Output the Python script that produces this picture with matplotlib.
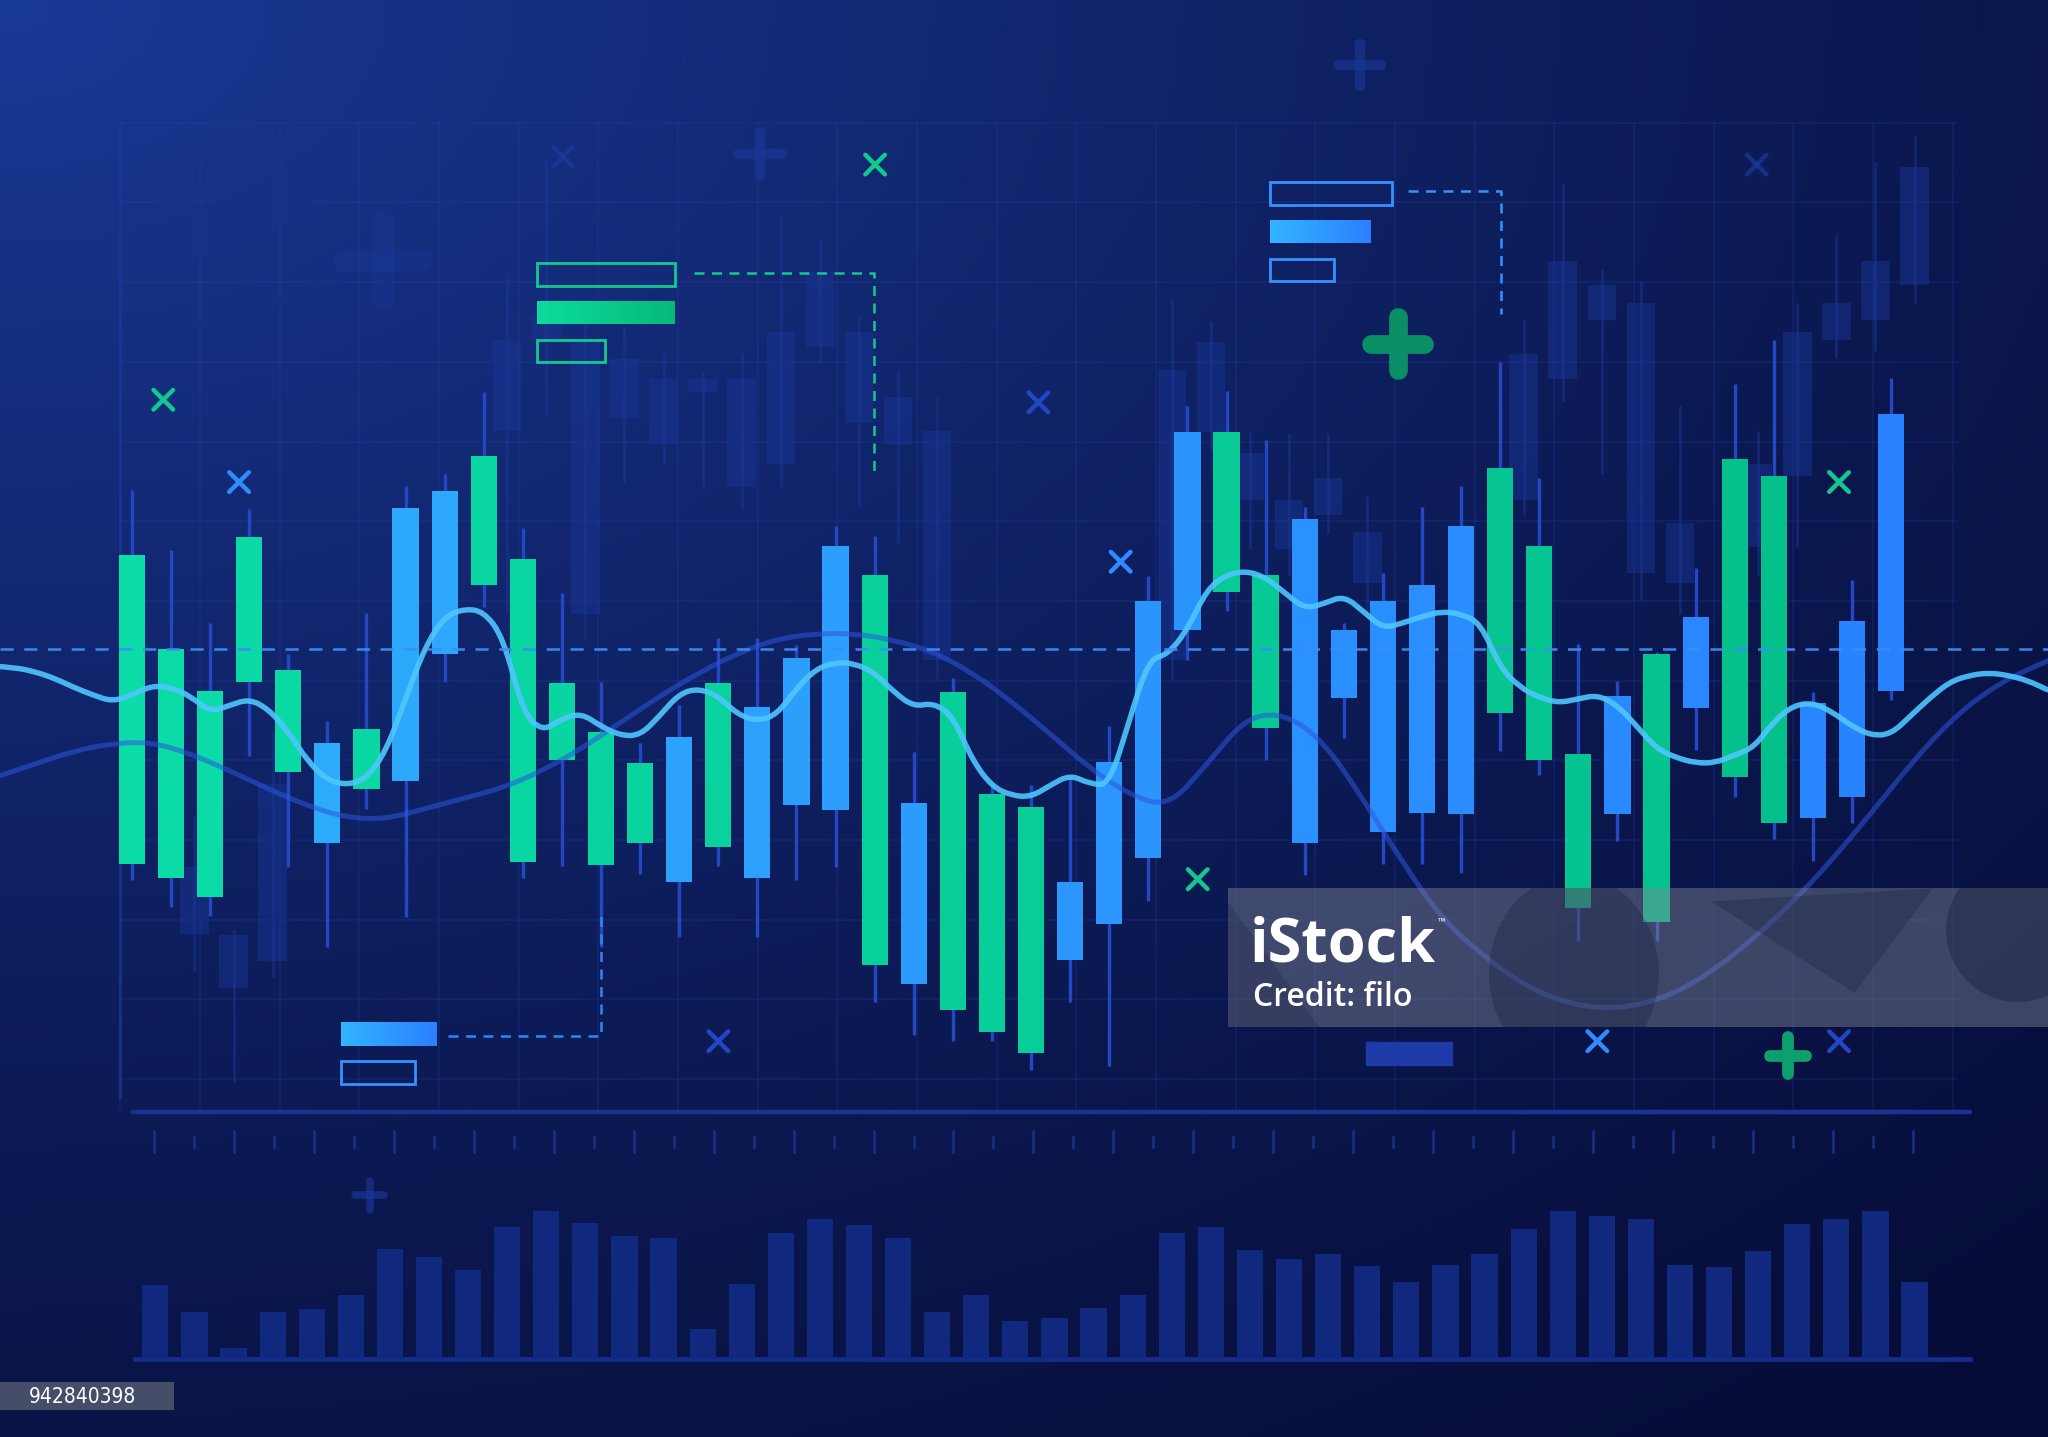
import numpy as np
import matplotlib
matplotlib.use("Agg")
import matplotlib.pyplot as plt
from matplotlib.path import Path
from matplotlib.patches import PathPatch, Rectangle, Ellipse, Polygon
from matplotlib.colors import to_rgb

# ---------------- data (price units) ----------------
candle_kind = list("GGGGGBGBBGGGGGBGBBBGBGGGBBBBGGBBBBBGGGBGBGGBBB")
body_top = [67.5, 60.3, 57.1, 68.9, 58.7, 53.1, 54.2, 71.1, 72.4, 75.1, 67.2, 57.7, 54.0, 51.6, 53.6, 57.7,
            55.9, 59.6, 68.2, 66.0, 48.5, 57.0, 49.2, 48.2, 42.5, 51.7, 64.0, 76.9, 76.9, 66.0, 70.3, 61.8,
            64.0, 65.2, 69.7, 74.2, 68.2, 52.3, 56.7, 59.9, 62.8, 74.9, 73.6, 56.2, 62.5, 78.3]
body_bot = [43.9, 42.8, 41.3, 57.8, 50.9, 45.5, 49.6, 50.2, 59.9, 65.2, 44.0, 51.8, 43.8, 45.5, 42.5, 45.2,
            42.8, 48.4, 48.0, 36.1, 34.7, 32.7, 31.0, 29.4, 36.5, 39.3, 44.3, 61.8, 64.7, 54.3, 45.5, 56.6,
            46.3, 47.8, 47.7, 55.4, 51.8, 40.5, 47.7, 39.4, 55.8, 50.5, 47.0, 47.4, 49.0, 57.1]
wick_hi = [72.5, 67.9, 62.3, 71.0, 59.9, 54.8, 63.1, 72.8, 73.7, 80.0, 69.6, 64.6, 57.8, 53.1, 56.0, 61.2,
           61.2, 60.6, 69.7, 69.0, 52.4, 58.1, 50.0, 49.9, 50.6, 54.4, 65.9, 78.9, 80.1, 76.3, 71.2, 62.3,
           66.1, 71.2, 72.8, 82.3, 73.4, 60.7, 57.9, 60.1, 66.5, 80.6, 84.0, 57.0, 65.6, 81.1]
wick_lo = [42.6, 40.6, 39.9, 52.1, 43.6, 37.5, 48.1, 39.8, 57.8, 63.5, 42.8, 43.7, 37.5, 43.1, 38.3, 43.7,
           38.3, 42.6, 43.6, 33.3, 30.8, 30.3, 30.3, 28.1, 33.3, 28.4, 41.0, 59.5, 63.2, 51.8, 43.0, 53.5,
           43.9, 43.9, 43.2, 52.5, 50.7, 38.0, 45.6, 38.0, 52.6, 49.0, 45.8, 44.1, 47.0, 56.4]
volume = [5.6, 3.6, 0.8, 3.6, 3.8, 4.9, 8.4, 7.8, 6.8, 10.1, 11.3, 10.4, 9.4, 9.2, 2.3, 5.7, 9.6, 10.7,
          10.2, 9.2, 3.6, 4.9, 2.9, 3.1, 3.9, 4.9, 9.6, 10.1, 8.3, 7.6, 8.0, 7.1, 5.9, 7.2, 8.0, 9.9, 11.3,
          10.9, 10.7, 7.2, 7.0, 8.2, 10.3, 10.7, 11.3, 5.9]
nan = np.nan
ghost_top = [nan, 43.6, 38.4, 50.0, nan, nan, nan, nan, nan, 84.0, 86.0, 84.0, 82.5, 81.0, 81.0, 81.0,
             84.6, 89.2, 84.6, 79.6, 77.0, nan, nan, nan, nan, nan, 81.7, 83.8, 75.3, 71.7, 73.4, 69.3,
             nan, nan, nan, 82.9, 90.0, 88.2, 86.8, 70.0, nan, 74.5, 84.6, 86.8, 90.0, 97.2]
ghost_bot = [nan, 38.5, 34.4, 36.4, nan, nan, nan, nan, nan, 77.0, 83.8, 63.0, 78.0, 76.0, 80.0, 72.7,
             74.5, 83.4, 77.6, 75.9, 59.5, nan, nan, nan, nan, nan, 59.5, 76.9, 71.7, 68.0, 70.6, 65.4,
             nan, nan, nan, 71.7, 81.0, 85.5, 66.1, 65.4, nan, 68.1, 73.6, 84.0, 85.5, 88.2]
ghost_hi = [nan, 47.5, 38.9, 54.0, nan, nan, nan, nan, nan, 89.1, 98.0, 87.0, 85.0, 83.0, 81.5, 83.0,
            93.4, 91.8, 85.8, 81.7, 79.5, nan, nan, nan, nan, nan, 87.1, 85.4, 77.0, 76.8, 76.8, 72.0,
            nan, nan, nan, 85.5, 95.9, 89.4, 88.5, 78.9, nan, 77.0, 86.8, 92.0, 97.6, 99.7]
ghost_lo = [nan, 35.7, 27.2, 35.2, nan, nan, nan, nan, nan, 63.0, 78.1, 61.0, 73.0, 74.5, 72.7, 71.0,
            72.7, 82.2, 71.2, 68.4, 58.0, nan, nan, nan, nan, nan, 58.0, 75.5, 68.0, 66.0, 69.2, 63.0,
            nan, nan, nan, 70.6, 79.2, 73.7, 64.1, 63.0, nan, 66.0, 68.1, 82.6, 83.1, 86.8]
# fast moving line, sampled every half period starting at t = -3.5
fast_line = [59.0, 58.9, 58.6, 58.1, 57.4, 56.8, 56.3, 56.8, 57.5, 57.4,
             56.7, 55.5, 56.0, 56.5, 55.7, 54.0, 51.7, 50.3, 49.9, 50.4,
             52.5, 56.5, 60.5, 62.8, 63.4, 63.2, 61.2, 55.5, 54.0, 55.0,
             55.4, 54.4, 53.7, 53.7, 55.2, 56.9, 57.3, 56.7, 55.3, 54.8,
             55.3, 57.3, 58.8, 59.3, 59.2, 58.5, 57.0, 55.9, 56.2, 55.2,
             51.8, 49.8, 49.1, 49.0, 49.9, 50.7, 50.0, 49.9, 54.7, 59.5,
             59.9, 61.8, 64.9, 66.0, 66.3, 65.8, 64.6, 63.4, 63.8, 64.4,
             63.2, 61.9, 62.3, 62.8, 63.2, 63.0, 62.3, 58.9, 57.4, 56.6,
             56.2, 56.5, 56.8, 56.0, 54.4, 52.7, 52.0, 51.6, 51.6, 52.2,
             52.8, 54.8, 56.0, 56.2, 55.5, 54.4, 53.7, 53.8, 55.2, 56.6,
             57.8, 58.3, 58.5, 58.3, 57.9, 57.2]
# slow moving line, sampled every period starting at t = -3.5
slow_line = [50.5, 51.5, 52.5, 53.1, 53.2, 52.3, 51.0, 49.6, 48.3, 47.4, 47.3, 48.1, 48.9, 49.7, 51.0,
             52.7, 54.7, 56.7, 58.5, 60.0, 61.1, 61.5, 61.5, 61.0, 60.1, 58.5, 56.3, 53.8, 51.2, 49.2,
             48.2, 51.5, 55.1, 55.4, 53.2, 48.8, 44.0, 39.7, 37.0, 34.8, 33.4, 32.8, 33.0, 34.0, 35.8,
             38.2, 41.0, 44.2, 47.8, 51.5, 54.8, 57.2, 58.8, 60.0]
ref_level = 60.3

# ---------------- figure ----------------
W, H = 1568.0, 1100.0       # design canvas units
fig = plt.figure(figsize=(20.48, 14.37), dpi=100)

ax_bg = fig.add_axes([0, 0, 1, 1]); ax_bg.set_axis_off()
ax = fig.add_axes([0, 0, 1, 1]); ax.set_axis_off(); ax.patch.set_alpha(0)
ax_top = fig.add_axes([0, 0, 1, 1]); ax_top.set_axis_off(); ax_top.patch.set_alpha(0)

# background gradient
gx = np.linspace(0, 1, 400)[None, :]
gy = np.linspace(0, 1, 280)[:, None]
r = np.sqrt((gx * 0.85) ** 2 + (gy * 0.95) ** 2) / 1.28
f = np.clip(1 - r, 0, 1) ** 1.3
c_light = np.array([25, 57, 150]) / 255
c_dark = np.array([6, 12, 54]) / 255
img = c_dark[None, None, :] + (c_light - c_dark)[None, None, :] * f[..., None]
ax_bg.imshow(img, extent=(0, W, H, 0), aspect='auto', interpolation='bilinear', zorder=0)

# grid
gcol = '#2445b0'
for gxv in np.arange(92, 1500, 61):
    ax_bg.plot([gxv, gxv], [94, 850], color=gcol, lw=1.2, alpha=0.22, zorder=1)
for gyv in np.arange(94, 850, 61):
    ax_bg.plot([92, 1498], [gyv, gyv], color=gcol, lw=1.2, alpha=0.22, zorder=1)
ax_bg.plot([92, 92], [94, 840], color='#1c3699', lw=2.2, alpha=0.7, zorder=1)
ax_bg.plot([102, 1508], [851, 851], color='#1a3494', lw=3.2, zorder=1, solid_capstyle='round')
# ruler ticks
for i, tx in enumerate(np.arange(118, 1470, 30.6)):
    if i % 2 == 0:
        ax_bg.plot([tx, tx], [866, 882], color='#17318a', lw=1.8, zorder=1)
    else:
        ax_bg.plot([tx, tx], [870, 878], color='#17318a', lw=1.8, zorder=1)
# volume baseline
ax_bg.plot([103, 1508], [1040, 1040], color='#142d8c', lw=3.4, zorder=1)

# decorative crosses and pluses
def xmark(a, x, y, h, c, lw=3.2, alpha=1.0):
    a.plot([x - h, x + h], [y - h, y + h], color=c, lw=lw, solid_capstyle='round', alpha=alpha, zorder=2)
    a.plot([x - h, x + h], [y + h, y - h], color=c, lw=lw, solid_capstyle='round', alpha=alpha, zorder=2)

def plus(a, x, y, h, t, c, alpha=1.0):
    a.plot([x - h, x + h], [y, y], color=c, lw=t, solid_capstyle='round', alpha=alpha, zorder=2)
    a.plot([x, x], [y - h, y + h], color=c, lw=t, solid_capstyle='round', alpha=alpha, zorder=2)

for (x, y) in [(125, 306), (670, 126), (917, 673), (1408, 369)]:
    xmark(ax_bg, x, y, 7.5, '#12c88c')
for (x, y) in [(183, 369), (858, 430), (1223, 797)]:
    xmark(ax_bg, x, y, 7.5, '#2f8cff')
for (x, y) in [(795, 308), (550, 797), (1408, 797)]:
    xmark(ax_bg, x, y, 7.5, '#2446c2')
for (x, y) in [(1345, 126), (431, 120)]:
    xmark(ax_bg, x, y, 7.5, '#1d3a9a', alpha=0.7)
plus(ax_bg, 1070, 263, 20, 13.5, '#0a8e66')
plus(ax_bg, 1369, 808, 14, 8.5, '#0e9f6e')
plus(ax_bg, 582, 118, 17, 7.5, '#1b3896', alpha=0.6)
plus(ax_bg, 1041, 50, 16, 7.5, '#1b3896', alpha=0.6)
plus(ax_bg, 293, 200, 30, 16, '#1a3ba0', alpha=0.25)
plus(ax_bg, 283, 915, 11, 5.5, '#1a3494', alpha=0.7)
ax_bg.set_xlim(0, W); ax_bg.set_ylim(H, 0)

# ---------------- chart (time index vs price) ----------------
n = len(body_top)
t = np.arange(n)
ax.set_xlim((0 - 101) / 29.93, (W - 101) / 29.93)
ax.set_ylim(0, 110)

# ghost candles and volume share the half-offset positions
tg = t + 0.6
ax.vlines(tg, ghost_lo, ghost_hi, color='#1b3aa0', lw=2.0, alpha=0.45, zorder=1)
gb = np.array(ghost_bot); gt = np.array(ghost_top)
ax.bar(tg, gt - gb, bottom=gb, width=0.73, color='#1a3799', alpha=0.45, zorder=1)
ax.bar(tg, volume, bottom=6.0, width=0.67, color='#10297f', zorder=1)

def smooth(xs, ys):
    pts = np.column_stack([xs, ys])
    verts = [pts[0]]; codes = [Path.MOVETO]
    for i in range(1, len(pts) - 1):
        verts += [pts[i], (pts[i] + pts[i + 1]) / 2]
        codes += [Path.CURVE3, Path.CURVE3]
    verts.append(pts[-1]); codes.append(Path.LINETO)
    return Path(verts, codes)

slow_t = -3.5 + np.arange(len(slow_line))
fast_t = -3.5 + 0.5 * np.arange(len(fast_line))

# wicks
ax.vlines(t, wick_lo, wick_hi, color='#2447c4', lw=2.4, zorder=3)

def mix(c0, c1, s):
    c0 = np.array(to_rgb(c0)); c1 = np.array(to_rgb(c1))
    return tuple(c0 + (c1 - c0) * s)

body_colors = []
for i, k in enumerate(candle_kind):
    s = i / (n - 1)
    body_colors.append(mix('#0bdca8', '#04bf8a', s) if k == 'G' else mix('#2eb0fb', '#2882ff', s))
bt = np.array(body_top); bb = np.array(body_bot)
ax.bar(t, bt - bb, bottom=bb, width=0.67, color=body_colors, zorder=4)

ax.add_patch(PathPatch(smooth(slow_t, slow_line), fill=False, ec='#2c55dc', lw=3.6, alpha=0.55,
                       zorder=5, capstyle='round', joinstyle='round'))
ax.add_patch(PathPatch(smooth(fast_t, fast_line), fill=False, ec='#4fc6ff', lw=3.9, alpha=0.9,
                       zorder=6, capstyle='round', joinstyle='round'))
ax.axhline(ref_level, color='#3b8ef5', lw=1.9, ls=(0, (5, 4)), alpha=0.9, zorder=7)

# ---------------- overlay: label boxes, watermark ----------------
def grad_rect(a, x0, y0, x1, y1, c0, c1, z=3):
    c0 = np.array(to_rgb(c0)); c1 = np.array(to_rgb(c1))
    tt = np.linspace(0, 1, 64)[None, :, None]
    arr = c0 + (c1 - c0) * tt
    a.imshow(arr, extent=(x0, x1, y1, y0), aspect='auto', interpolation='bilinear', zorder=z)

def outline(a, x0, y0, x1, y1, c, lw=2.0):
    a.add_patch(Rectangle((x0, y0), x1 - x0, y1 - y0, fill=False, ec=c, lw=lw, zorder=3))

gcol2 = '#14c98f'
outline(ax_top, 411, 201, 517, 219, gcol2)
grad_rect(ax_top, 411, 231, 516, 248, '#0bdc9c', '#06b97b')
outline(ax_top, 411, 260, 463, 277, gcol2)
ax_top.plot([531, 669, 669], [209, 209, 366], color=gcol2, lw=1.8, ls=(0, (4, 3)), zorder=3)

bcol = '#3592ff'
outline(ax_top, 972, 139, 1066, 157, bcol)
grad_rect(ax_top, 972, 169, 1049, 186, '#33b4ff', '#2a80ff')
outline(ax_top, 972, 198, 1021, 215, bcol)
ax_top.plot([1078, 1149, 1149], [146, 146, 240], color=bcol, lw=1.8, ls=(0, (4, 3)), zorder=3)

grad_rect(ax_top, 261, 783, 334, 801, '#33b4ff', '#2a80ff')
outline(ax_top, 261, 812, 318, 830, bcol)
ax_top.plot([343, 460, 460], [793, 793, 700], color='#2f86f5', lw=1.8, ls=(0, (4, 3)), zorder=3)
ax_top.add_patch(Rectangle((1046, 798), 66, 17, color='#1d3aa8', zorder=3))

box = Rectangle((940, 680), 628, 106, color=(0.50, 0.52, 0.58), alpha=0.45, lw=0, zorder=4)
ax_top.add_patch(box)
for shp in [Ellipse((1205, 745), 130, 150, color='#0a1030', alpha=0.25, lw=0, zorder=4),
            Ellipse((1545, 712), 110, 110, color='#0a1030', alpha=0.3, lw=0, zorder=4),
            Polygon([(1310, 690), (1480, 680), (1420, 760)], closed=True, color='#0a1030', alpha=0.22, lw=0, zorder=4),
            Polygon([(940, 690), (1010, 786), (940, 786)], closed=True, color='#0a1030', alpha=0.18, lw=0, zorder=4)]:
    ax_top.add_patch(shp)
    shp.set_clip_path(box)
fam = ['Open Sans', 'DejaVu Sans']
ax_top.text(957, 736, 'iStock', color='white', fontsize=44, fontweight='bold', family=fam,
            va='baseline', ha='left', zorder=5)
ax_top.text(1101, 708, '™', color='white', fontsize=7, family=fam, va='baseline', ha='left', zorder=5)
ax_top.text(959, 770, 'Credit: filo', color='white', fontsize=23, fontweight='semibold', family=fam,
            va='baseline', ha='left', zorder=5)
ax_top.add_patch(Rectangle((0, 1058), 133, 21, color='#454d68', lw=0, zorder=4))
ax_top.text(22, 1069, '942840398', color='white', fontsize=15, family=['DejaVu Sans'],
            fontstretch='condensed', va='center', ha='left', zorder=5)
ax_top.set_xlim(0, W); ax_top.set_ylim(H, 0)

fig.savefig('out.png', dpi=100)
